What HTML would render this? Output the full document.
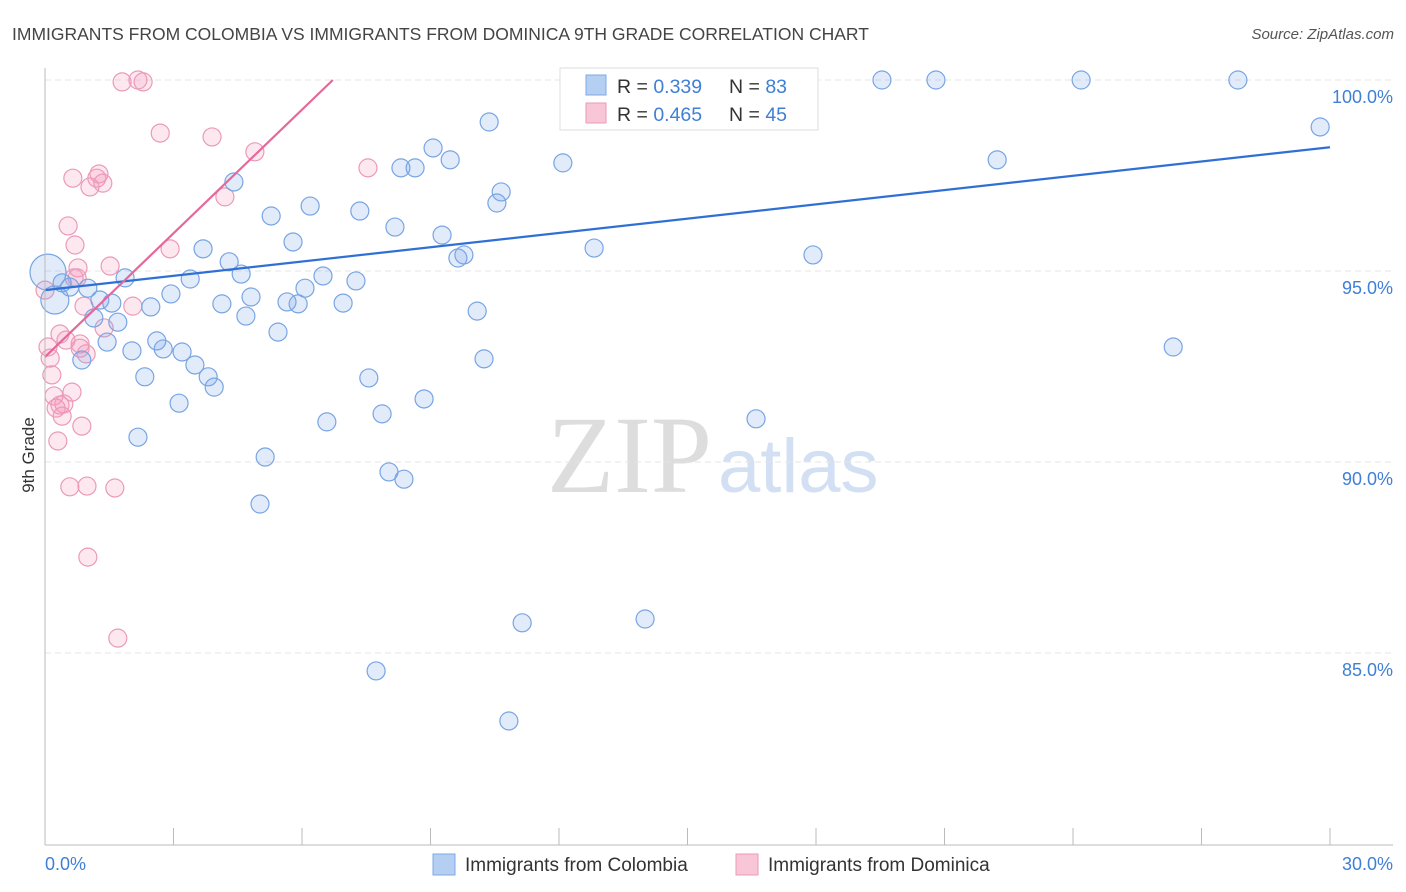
<!DOCTYPE html>
<html><head><meta charset="utf-8"><style>
body{margin:0;background:#fff;font-family:"Liberation Sans",sans-serif;}
#wrap{position:relative;width:1406px;height:892px;overflow:hidden;}
</style></head><body>
<div id="wrap">
<svg id="svg" width="1406" height="892">
<text x="12" y="40" font-size="17.5" fill="#444">IMMIGRANTS FROM COLOMBIA VS IMMIGRANTS FROM DOMINICA 9TH GRADE CORRELATION CHART</text>
<text x="1394" y="39" font-size="15" fill="#555" font-style="italic" text-anchor="end">Source: ZipAtlas.com</text>
<text x="712" y="492" font-size="110" fill="#ddd" text-anchor="end" font-family="Liberation Serif,serif">ZIP</text>
<text x="718" y="492" font-size="76" fill="#d3e0f3">atlas</text>
<text transform="translate(34,455) rotate(-90)" font-size="17" fill="#333" text-anchor="middle">9th Grade</text>
<g id="grid"></g><g id="pts"></g><g id="lines"></g>
<line x1="45" y1="68" x2="45" y2="845" stroke="#bbb"/>
<line x1="45" y1="845" x2="1393" y2="845" stroke="#bbb"/>
<text x="45" y="870" font-size="18" fill="#3f7fd6">0.0%</text>
<text x="1393" y="870" font-size="18" fill="#3f7fd6" text-anchor="end">30.0%</text>
<g>
<rect x="560" y="68" width="258" height="62" fill="#fff" stroke="#ddd"/>
<rect x="586" y="75" width="20" height="20" fill="#b5cff2" stroke="#7ea8e6"/>
<rect x="586" y="103" width="20" height="20" fill="#f8c6d6" stroke="#ec9ab7"/>
<text x="617" y="93" font-size="19.5" fill="#333">R = <tspan fill="#3f7fd6">0.339</tspan></text>
<text x="729" y="93" font-size="19.5" fill="#333">N = <tspan fill="#3f7fd6">83</tspan></text>
<text x="617" y="121" font-size="19.5" fill="#333">R = <tspan fill="#3f7fd6">0.465</tspan></text>
<text x="729" y="121" font-size="19.5" fill="#333">N = <tspan fill="#3f7fd6">45</tspan></text>
</g>
<g>
<rect x="433" y="854" width="22" height="21" fill="#b5cff2" stroke="#7ea8e6"/>
<text x="465" y="871" font-size="19" fill="#333">Immigrants from Colombia</text>
<rect x="736" y="854" width="22" height="21" fill="#f8c6d6" stroke="#ec9ab7"/>
<text x="768" y="871" font-size="19" fill="#333">Immigrants from Dominica</text>
</g>
</svg>
</div>
<script>
const yTicks=[100,95,90,85];
const yTickLabels=["100.0%","95.0%","90.0%","85.0%"];
const xTicks=[0,3,6,9,12,15,18,21,24,27,30];
const blueX=[0.07,0.23,0.40,0.58,1.00,1.28,1.56,1.87,1.14,1.70,1.45,0.86,2.03,2.47,2.33,2.17,2.61,2.76,2.94,3.13,3.20,3.39,3.50,3.69,3.81,3.95,4.13,4.30,4.41,4.58,4.69,4.81,5.02,5.14,5.28,5.44,5.65,5.79,5.91,6.07,6.19,6.49,6.58,6.96,7.26,7.35,7.56,7.73,7.87,8.03,8.17,8.31,8.38,8.64,8.85,9.06,9.27,9.46,9.64,9.78,10.09,10.25,10.37,10.55,10.65,10.83,11.14,12.09,12.82,13.82,14.01,15.34,16.60,17.93,19.54,20.80,22.23,24.19,26.34,27.85,29.77];
const blueY=[94.97,94.24,94.69,94.58,94.55,94.24,94.16,94.82,93.77,93.66,93.14,92.67,92.91,94.06,92.23,90.65,93.17,92.96,94.40,91.54,92.88,94.79,92.54,95.58,92.23,91.96,94.14,95.24,97.33,94.92,93.82,94.32,88.90,90.13,96.44,93.40,94.19,95.76,94.14,94.55,96.70,94.87,91.05,94.16,94.74,96.57,92.20,84.53,91.26,89.74,96.15,97.70,89.55,97.70,91.65,98.22,95.94,97.91,95.34,95.42,93.95,92.70,98.90,96.78,97.07,83.22,85.79,97.83,95.60,100,85.89,100,91.13,95.42,100,100,97.91,100,93.01,100,98.77];
const blueR=[18,14];
const pinkX=[0,0.12,0.16,0.21,0.26,0.30,0.35,0.40,0.44,0.49,0.54,0.58,0.63,0.65,0.70,0.75,0.77,0.82,0.86,0.91,0.96,0.98,1.00,1.05,1.21,1.26,1.35,1.38,1.52,1.63,1.70,1.80,2.05,2.17,2.29,2.69,2.92,3.90,4.20,4.90,7.54,0.07,0.35,0.82,0.68];
const pinkY=[94.50,92.72,92.28,91.73,91.41,90.55,93.35,91.20,91.52,93.19,96.18,89.35,91.83,97.43,95.68,94.82,95.08,92.98,90.94,94.08,92.83,89.37,87.51,97.20,97.43,97.54,97.30,93.51,95.13,89.32,85.39,99.95,94.08,100,99.95,98.61,95.58,98.51,96.94,98.12,97.70,93.01,91.49,93.09,94.82];
const blueLineX=[0,30], blueLineY=[94.50,98.24];
const pinkLineX=[0,6.72], pinkLineY=[92.75,100];
const sx=v=>45+v*1285/30, sy=v=>80+(100-v)*38.2;
const NS="http://www.w3.org/2000/svg";
function mk(t,a,p){const e=document.createElementNS(NS,t);for(const k in a)e.setAttribute(k,a[k]);p.appendChild(e);return e;}
const grid=document.getElementById('grid');
yTicks.forEach((t,i)=>{
 const l=mk('line',{x1:45,x2:1393,y1:sy(t),y2:sy(t),stroke:'#e4e4e4','stroke-dasharray':'6,4'},grid);
 
 
 const tx=mk('text',{x:1393,y:sy(t)+23,'font-size':18,fill:'#3f7fd6','text-anchor':'end'},grid);
 tx.textContent=yTickLabels[i];
 
 
});
xTicks.forEach(t=>{
 const l=mk('line',{x1:sx(t),x2:sx(t),y1:828,y2:845,stroke:'#bbb'},grid);
 
 
});
const pts=document.getElementById('pts');
pinkX.forEach((x,i)=>{
 const c=mk('circle',{cx:sx(x),cy:sy(pinkY[i]),r:9,fill:'rgba(244,150,185,0.22)',stroke:'#eb9ab8','stroke-width':1.2},pts);
 
 
});
blueX.forEach((x,i)=>{
 const c=mk('circle',{cx:sx(x),cy:sy(blueY[i]),r:blueR[i]||9,fill:'rgba(120,165,230,0.22)',stroke:'#78a5e3','stroke-width':1.2},pts);
 
 
});
const lines=document.getElementById('lines');
const bl=mk('line',{x1:sx(blueLineX[0]),y1:sy(blueLineY[0]),x2:sx(blueLineX[1]),y2:sy(blueLineY[1]),stroke:'#2f6fd6','stroke-width':2.2},lines);


const pl=mk('line',{x1:sx(pinkLineX[0]),y1:sy(pinkLineY[0]),x2:sx(pinkLineX[1]),y2:sy(pinkLineY[1]),stroke:'#e5689a','stroke-width':2.2},lines);


</script>
</body></html>
